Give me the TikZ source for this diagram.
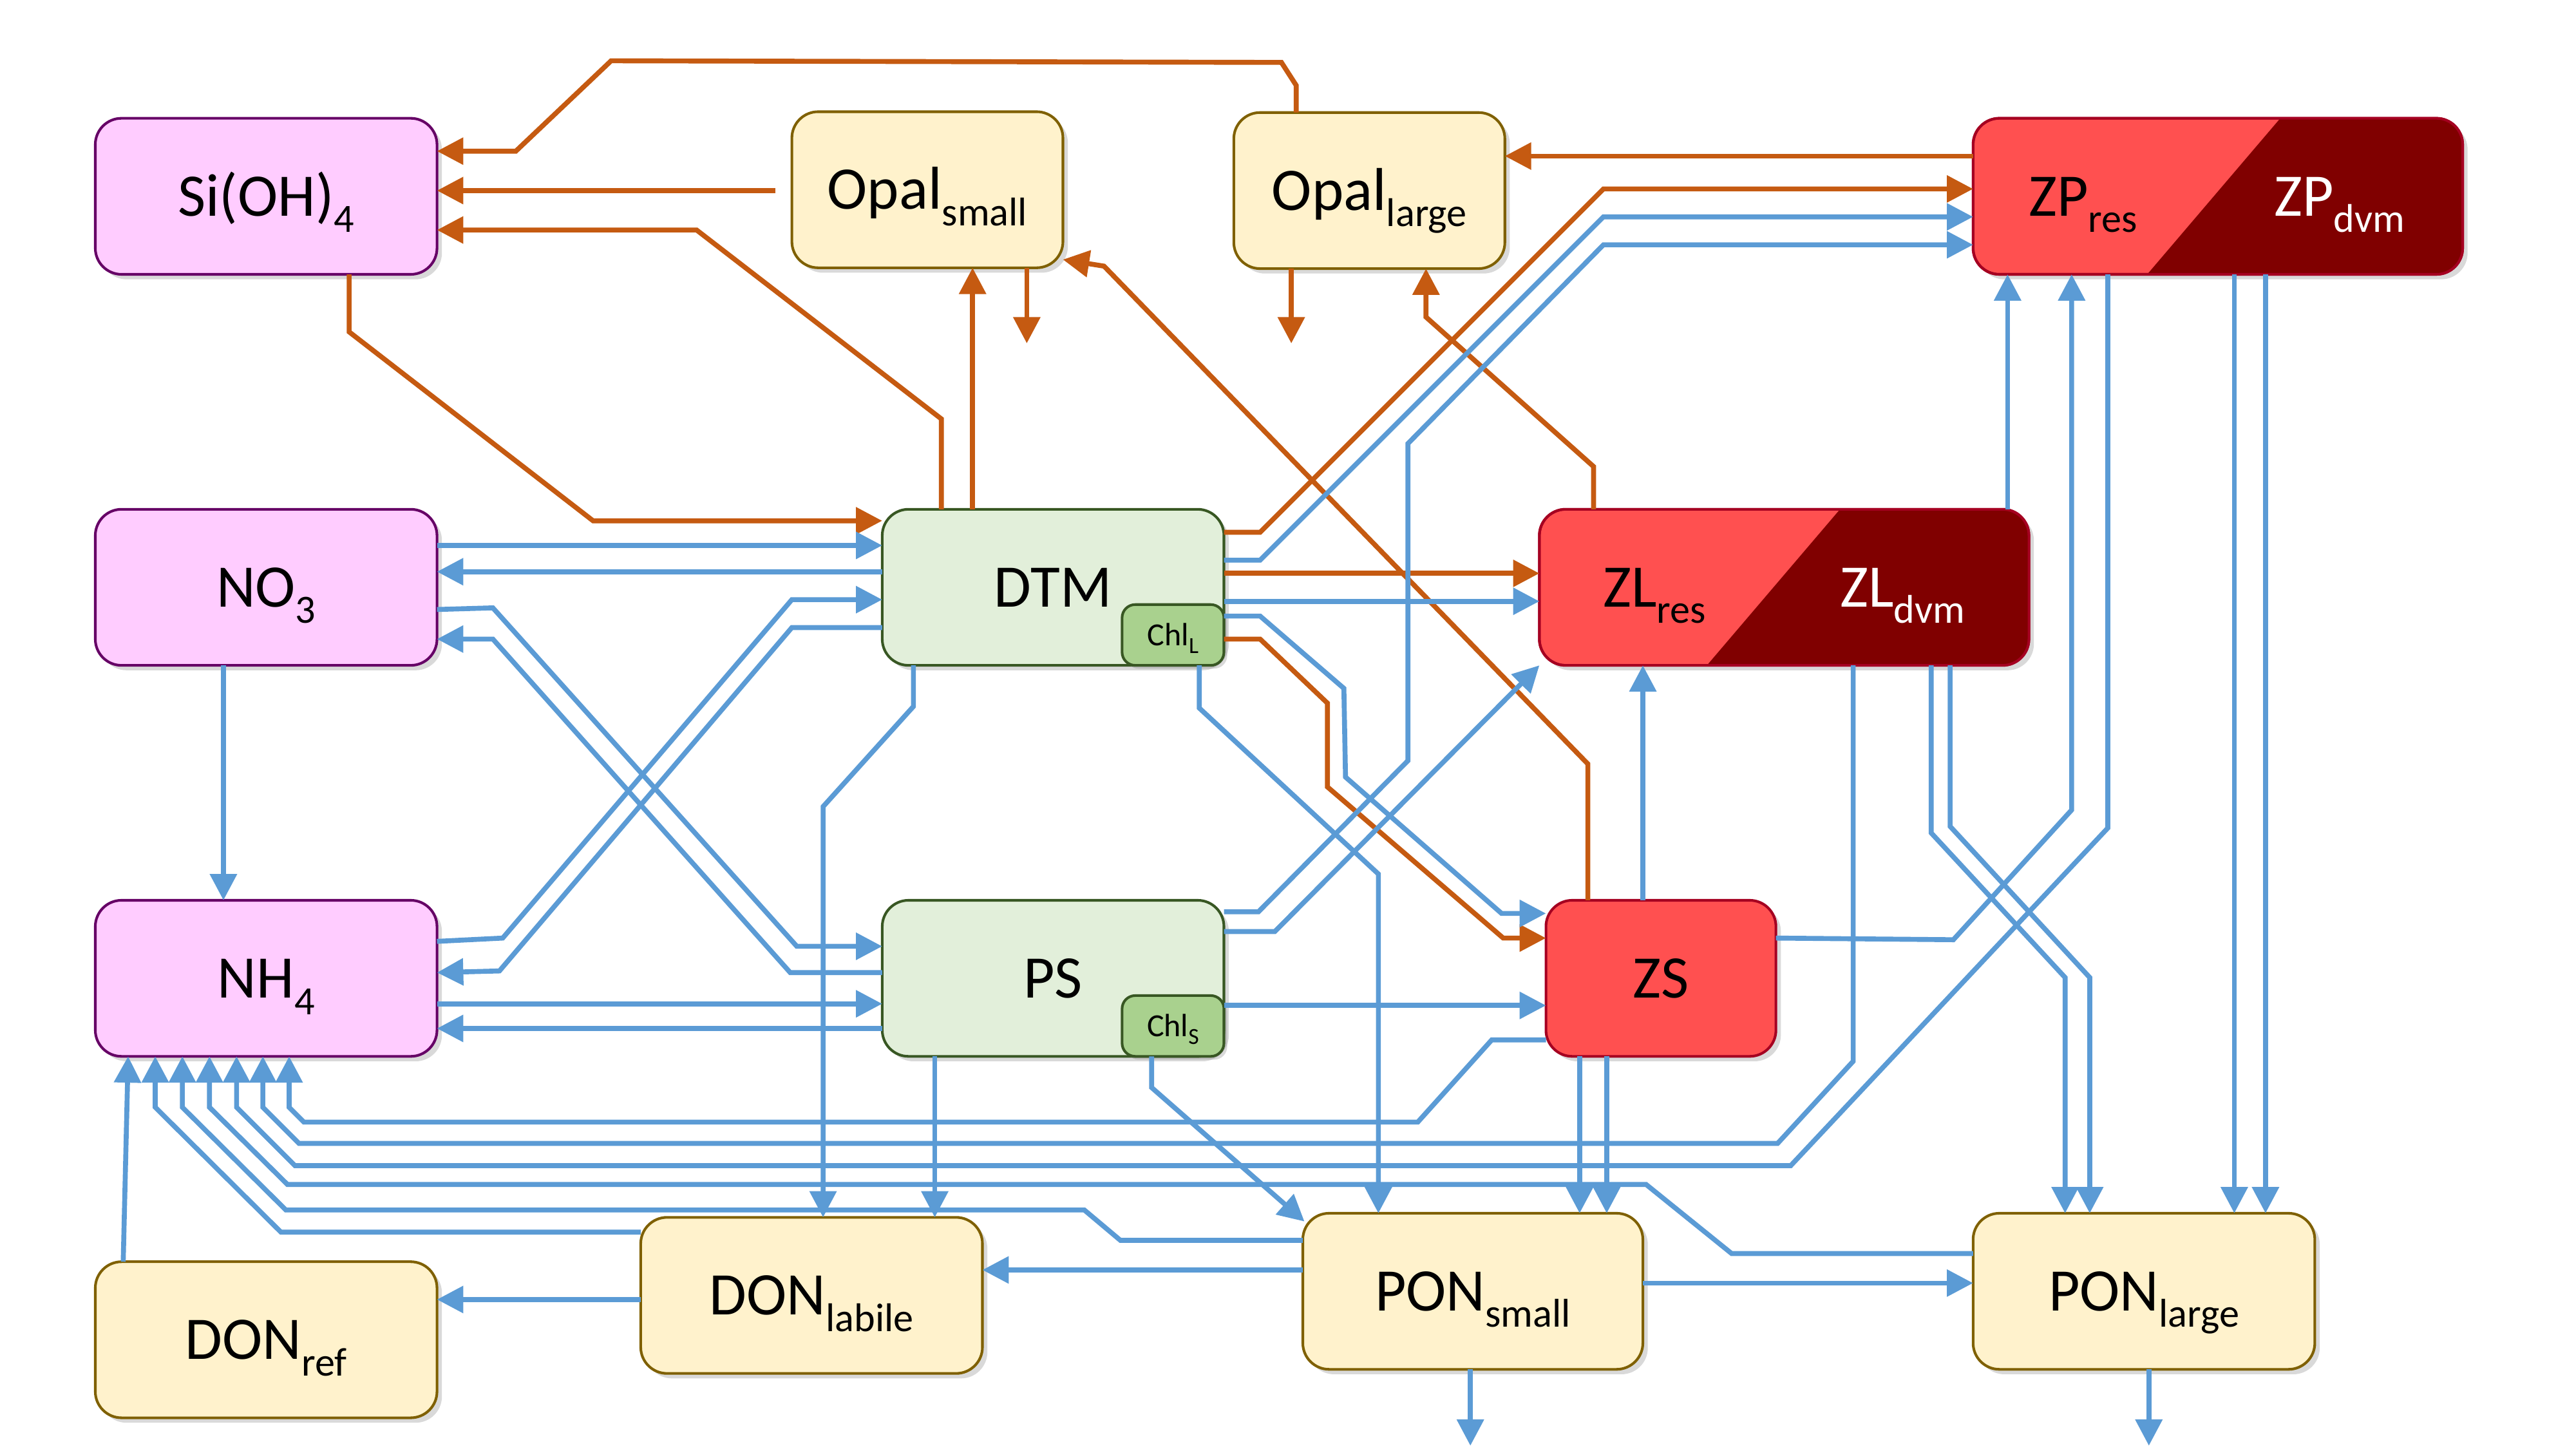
\documentclass[tikz,border=0pt]{standalone}
\usepackage{fontspec}
\setmainfont{Carlito}
\usetikzlibrary{arrows.meta, positioning, shadows, calc}

\definecolor{nutfill}{HTML}{FFCCFF}
\definecolor{nutline}{HTML}{660066}
\definecolor{detfill}{HTML}{FFF2CC}
\definecolor{detline}{HTML}{7F6000}
\definecolor{phyfill}{HTML}{E2EFDA}
\definecolor{phyline}{HTML}{385723}
\definecolor{chlfill}{HTML}{A9D18E}
\definecolor{zoofill}{HTML}{FF5050}
\definecolor{zoodark}{HTML}{800000}
\definecolor{zooline}{HTML}{A50021}
\definecolor{nflow}{HTML}{5B9BD5}
\definecolor{siflow}{HTML}{C55A11}

\newcommand{\lidx}[1]{\raisebox{-5pt}{\fontsize{12.2}{13}\selectfont #1}}
\newcommand{\chlidx}[1]{\raisebox{-2.5pt}{\fontsize{7}{8}\selectfont #1}}

\tikzset{
  pool/.style={draw, line width=0.8pt, rounded corners=8pt, outer sep=0pt,
    minimum width=104pt, minimum height=47.5pt, inner sep=0pt,
    text height=11.9pt, text depth=0pt, font=\fontsize{18.4}{22}\selectfont,
    drop shadow={shadow xshift=1.5pt, shadow yshift=-1.5pt, opacity=0.3}},
  nut/.style={pool, fill=nutfill, draw=nutline},
  det/.style={pool, fill=detfill, draw=detline},
  phy/.style={pool, fill=phyfill, draw=phyline},
  zoo/.style={pool, fill=zoofill, draw=zooline},
  chlbox/.style={draw=phyline, fill=chlfill, line width=0.8pt, rounded corners=4pt,
    minimum width=31pt, minimum height=18.5pt, inner sep=0pt, outer sep=0pt,
    text height=6.3pt, text depth=0pt, font=\fontsize{9.8}{11}\selectfont,
    drop shadow={shadow xshift=1pt, shadow yshift=-1pt, opacity=0.3}},
  ztext/.style={inner sep=0pt, text height=11.9pt, text depth=0pt,
    font=\fontsize{18.4}{22}\selectfont},
  nf/.style={draw=nflow, line width=1.5pt, -{Triangle[length=8pt,width=8pt]}},
  sif/.style={draw=siflow, line width=1.5pt, -{Triangle[length=8pt,width=8pt]}},
}

\begin{document}
\begin{tikzpicture}[x=0.5pt, y=-0.5pt]
\useasboundingbox (0,0) rectangle (1568,882);

% Nodes
\node[nut] (Si) at (162,119.5) {Si(OH)\lidx{4}};
\node[det, minimum width=82.5pt] (OpS) at (564.5,115.5) {Opal\lidx{small}};
\node[det, minimum width=82.5pt] (OpL) at (833.5,116) {Opal\lidx{large}};
\node[zoo, minimum width=149pt] (ZP) at (1350,119.5) {};

\node[nut] (NO3) at (162,357.5) {NO\lidx{3}};
\node[phy] (DTM) at (641,357.5) {DTM};
\node[zoo, minimum width=149pt] (ZL) at (1086,357.5) {};

\node[nut] (NH4) at (162,595.5) {NH\lidx{4}};
\node[phy] (PS) at (641,595.5) {PS};
\node[zoo, minimum width=70pt] (ZS) at (1011,595.5) {ZS};

\node[det] (DONr) at (162,815.5) {DON\lidx{ref}};
\node[det] (DONl) at (494,788.5) {DON\lidx{labile}};
\node[det, minimum width=103.5pt] (PONs) at (896.5,786) {PON\lidx{small}};
\node[det] (PONl) at (1305,786) {PON\lidx{large}};

\node[chlbox, anchor=south east] (chlL) at (DTM.south east) {Chl\chlidx{L}};
\node[chlbox, anchor=south east] (chlS) at (PS.south east) {Chl\chlidx{S}};

% dark halves of the zooplankton pools
\begin{scope}
  \clip[rounded corners=8pt] (ZP.south west) rectangle (ZP.north east);
  \fill[zoodark] (1388,0 |- ZP.north) -- (ZP.north east) -- (ZP.south east) -- (1307,0 |- ZP.south) -- cycle;
\end{scope}
\begin{scope}
  \clip[rounded corners=8pt] (ZL.south west) rectangle (ZL.north east);
  \fill[zoodark] (1120,0 |- ZL.north) -- (ZL.north east) -- (ZL.south east) -- (1039,0 |- ZL.south) -- cycle;
\end{scope}
\draw[zooline, line width=0.8pt, rounded corners=8pt] (ZP.south west) rectangle (ZP.north east);
\draw[zooline, line width=0.8pt, rounded corners=8pt] (ZL.south west) rectangle (ZL.north east);

\node[ztext] (ZPres) at (1268,119.5) {ZP\lidx{res}};
\node[ztext, text=white] (ZPdvm) at (1424,119.5) {ZP\lidx{dvm}};
\node[ztext] (ZLres) at (1007,357.5) {ZL\lidx{res}};
\node[ztext, text=white] (ZLdvm) at (1158,357.5) {ZL\lidx{dvm}};

% free ends (sinking)
\coordinate (opSsink) at (625,209);
\coordinate (opLsink) at (786,209);
\coordinate (ponSsink) at (895,880);
\coordinate (ponLsink) at (1308,880);

% Silica connections
\draw[sif] (789,0 |- OpL.north) -- (789,52) -- (780,38) -- (372,37) -- (314,92) -- (Si.east |- 0,92);
\draw[sif, shorten <=5pt] (OpS.west |- 0,116) -- (Si.east |- 0,116);
\draw[sif] (573,0 |- DTM.north) -- (573,255) -- (424,140) -- (Si.east |- 0,140);
\draw[sif] (212.5,0 |- Si.south) -- (212.5,202) -- (361,317) -- (DTM.west |- 0,317);
\draw[sif] (592,0 |- DTM.north) -- (592,0 |- OpS.south);
\draw[sif] (625,0 |- OpS.south) -- (opSsink);
\draw[sif] (786,0 |- OpL.south) -- (opLsink);
\draw[sif] (966.5,0 |- ZS.north) -- (966.5,465) -- (672,162) -- (OpS.east |- 0,158);
\draw[sif] (970,0 |- ZL.north) -- (970,284) -- (868,193) -- (868,0 |- OpL.south);
\draw[sif] (DTM.east |- 0,324) -- (767,324) -- (976,115) -- (ZP.west |- 0,115);
\draw[sif] (DTM.east |- 0,349) -- (ZL.west |- 0,349);
\draw[sif] (DTM.east |- 0,389) -- (767,389) -- (808,428) -- (808,479) -- (915,571) -- (ZS.west |- 0,571);
\draw[sif] (ZP.west |- 0,95) -- (OpL.east |- 0,95);

% Nitrogen connections
\draw[nf] (NO3.east |- 0,332) -- (DTM.west |- 0,332);
\draw[nf] (DTM.west |- 0,348) -- (NO3.east |- 0,348);
\draw[nf] (NO3.east |- 0,371) -- (300,370) -- (485,576) -- (PS.west |- 0,576);
\draw[nf] (PS.west |- 0,592) -- (481,592) -- (300,389) -- (NO3.east |- 0,389);
\draw[nf] (NH4.east |- 0,573) -- (306,571) -- (482,365) -- (DTM.west |- 0,365);
\draw[nf] (DTM.west |- 0,382) -- (482,382) -- (304,591) -- (NH4.east |- 0,592);
\draw[nf] (NH4.east |- 0,611) -- (PS.west |- 0,611);
\draw[nf] (PS.west |- 0,626) -- (NH4.east |- 0,626);
\draw[nf] (136,0 |- NO3.south) -- (136,0 |- NH4.north);

\draw[nf] (556,0 |- DTM.south) -- (556,430) -- (501,491) -- (501,0 |- DONl.north);
\draw[nf] (569,0 |- PS.south) -- (569,0 |- DONl.north);
\draw[nf] (730,0 |- DTM.south) -- (730,431) -- (839,532) -- (839,0 |- PONs.north);
\draw[nf] (701,0 |- PS.south) -- (701,662) -- ($(PONs.north west)+(1,5)$);
\draw[nf] (PONs.west |- 0,773) -- (DONl.east |- 0,773);
\draw[nf] (DONl.west |- 0,791) -- (DONr.east |- 0,791);

\draw[nf] (75,0 |- DONr.north) -- (78,0 |- NH4.south);
\draw[nf] (DONl.west |- 0,750) -- (171,750) -- (94.5,674) -- (94.5,0 |- NH4.south);
\draw[nf] (PONs.west |- 0,755) -- (682,755) -- (660,736.5) -- (174,736.5) -- (111,674) -- (111,0 |- NH4.south);
\draw[nf] (PONl.west |- 0,763) -- (1054,763) -- (1002,721) -- (175,721) -- (127.5,674) -- (127.5,0 |- NH4.south);
\draw[nf] (1283,0 |- ZP.south) -- (1283,504) -- (1090,709.5) -- (179.5,709.5) -- (144,674) -- (144,0 |- NH4.south);
\draw[nf] (1128,0 |- ZL.south) -- (1128,646) -- (1082,696) -- (182,696) -- (160,674) -- (160,0 |- NH4.south);
\draw[nf] (ZS.west |- 0,633) -- (908,633) -- (863,683) -- (185,683) -- (176,674) -- (176,0 |- NH4.south);

\draw[nf] (DTM.east |- 0,341) -- (767,341) -- (976,132) -- (ZP.west |- 0,132);
\draw[nf] (DTM.east |- 0,366) -- (ZL.west |- 0,366);
\draw[nf] (DTM.east |- 0,375) -- (767,375) -- (818,419) -- (819,473) -- (914,556) -- (ZS.west |- 0,556);
\draw[nf] (PS.east |- 0,555) -- (766,555) -- (857,463) -- (857,270) -- (976,149) -- (ZP.west |- 0,149);
\draw[nf] (PS.east |- 0,567) -- (776,567) -- (ZL.south west);
\draw[nf] (PS.east |- 0,612) -- (ZS.west |- 0,612);

\draw[nf] (1000,0 |- ZS.north) -- (1000,0 |- ZL.south);
\draw[nf] (1222,0 |- ZL.north) -- (1222,0 |- ZP.south);
\draw[nf] (ZS.east |- 0,571) -- (1189,572) -- (1261,493) -- (1261,0 |- ZP.south);
\draw[nf] (961.5,0 |- ZS.south) -- (961.5,0 |- PONs.north);
\draw[nf] (978,0 |- ZS.south) -- (978,0 |- PONs.north);
\draw[nf] (1175.5,0 |- ZL.south) -- (1175.5,507) -- (1257,595) -- (1257,0 |- PONl.north);
\draw[nf] (1187,0 |- ZL.south) -- (1187,503) -- (1272,595) -- (1272,0 |- PONl.north);
\draw[nf] (1360,0 |- ZP.south) -- (1360,0 |- PONl.north);
\draw[nf] (1379,0 |- ZP.south) -- (1379,0 |- PONl.north);

\draw[nf] (PONs.east |- 0,781) -- (PONl.west |- 0,781);
\draw[nf] (895,0 |- PONs.south) -- (ponSsink);
\draw[nf] (1308,0 |- PONl.south) -- (ponLsink);

\end{tikzpicture}
\end{document}
